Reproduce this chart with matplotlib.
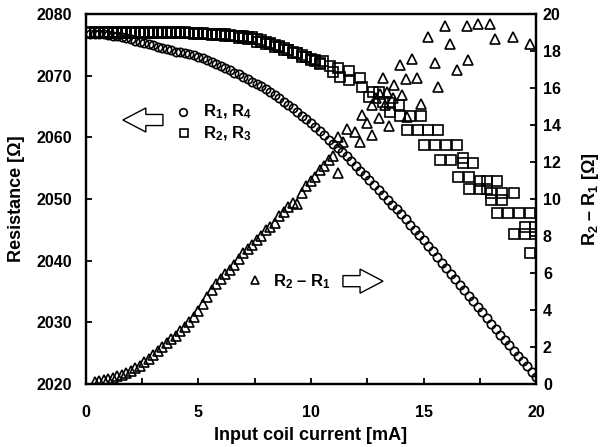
import numpy as np
import matplotlib
matplotlib.use("Agg")
import matplotlib.pyplot as plt
from matplotlib.patches import FancyArrow

plt.rcParams['font.family'] = ['Liberation Sans', 'DejaVu Sans']
plt.rcParams['font.weight'] = 'bold'
plt.rcParams['mathtext.fontset'] = 'custom'
plt.rcParams['mathtext.rm'] = 'Liberation Sans:bold'
plt.rcParams['mathtext.bf'] = 'Liberation Sans:bold'

# current grid, 0.2 mA steps
current = np.round(np.arange(1, 101) * 0.2, 1)

# R1, R4 (circles), one value per current step
r1 = [2076.8, 2076.8, 2076.8, 2076.7, 2076.6, 2076.5, 2076.4, 2076.3, 2076.1, 2075.9,
      2075.7, 2075.5, 2075.3, 2075.1, 2074.9, 2074.7, 2074.5, 2074.3, 2074.1, 2073.9,
      2073.8, 2073.6, 2073.5, 2073.3, 2073.1, 2072.8, 2072.5, 2072.2, 2071.9, 2071.6,
      2071.2, 2070.9, 2070.5, 2070.2, 2069.8, 2069.4, 2069.0, 2068.7, 2068.3, 2067.9,
      2067.4, 2066.9, 2066.4, 2065.8, 2065.3, 2064.7, 2064.1, 2063.5, 2062.9, 2062.3,
      2061.6, 2061.0, 2060.3, 2059.6, 2059.0, 2058.3, 2057.6, 2056.9, 2056.1, 2055.4,
      2054.6, 2053.9, 2053.1, 2052.3, 2051.5, 2050.7, 2049.9, 2049.1, 2048.3, 2047.5,
      2046.7, 2045.8, 2045.0, 2044.1, 2043.3, 2042.4, 2041.5, 2040.6, 2039.7, 2038.8,
      2037.9, 2037.0, 2036.1, 2035.2, 2034.3, 2033.4, 2032.5, 2031.6, 2030.7, 2029.8,
      2028.9, 2028.0, 2027.2, 2026.3, 2025.4, 2024.6, 2023.7, 2022.9, 2022.0, 2021.2]

# R2, R3 (squares), 0.2 .. 10.4 mA
r2_low = [2077.0, 2077.0, 2077.0, 2077.0, 2077.0, 2077.0, 2077.0, 2077.0, 2077.0, 2077.0,
          2077.0, 2077.0, 2077.0, 2077.0, 2077.0, 2077.0, 2077.0, 2077.0, 2077.0, 2077.0,
          2077.0, 2077.0, 2076.9, 2076.9, 2076.9, 2076.9, 2076.8, 2076.8,
          2076.8, 2076.7, 2076.7, 2076.6, 2076.5, 2076.5, 2076.4, 2076.3, 2076.2, 2076.0,
          2075.8, 2075.5, 2075.3, 2075.0, 2074.8, 2074.5, 2074.2, 2073.9, 2073.6, 2073.3,
          2073.0, 2072.7, 2072.4, 2072.1]
r3_low = [2076.9, 2076.9, 2076.9, 2076.9, 2076.9, 2076.9, 2076.9, 2076.9, 2076.9, 2076.9,
          2076.9, 2076.9, 2076.9, 2076.9, 2076.9, 2076.9, 2076.9, 2076.9, 2076.9, 2076.9,
          2076.9, 2076.9, 2076.9, 2076.8, 2076.8, 2076.8, 2076.8, 2076.6,
          2076.6, 2076.6, 2076.4, 2076.4, 2076.4, 2076.1, 2076.1, 2075.9, 2075.9, 2075.5,
          2075.5, 2075.1, 2075.1, 2074.6, 2074.6, 2074.1, 2074.1, 2073.6, 2073.6, 2073.1,
          2073.1, 2072.6, 2072.6, 2071.9]

# R2, R3 scattered part (above ~10.5 mA)
sq_x = [10.55, 10.84, 11.0, 11.2, 11.3, 11.7, 11.7, 12.2, 12.25, 12.6, 12.77, 13.0,
        13.2, 13.5, 13.5, 13.9, 13.96, 14.4, 14.9, 14.25, 14.77, 15.2, 15.66,
        15.0, 15.5, 16.0, 16.5, 15.73, 16.22, 16.74, 16.74, 17.2, 16.52, 17.0,
        17.5, 17.8, 18.25, 17.0, 17.5, 17.8, 18.0, 18.5, 19.0, 18.0, 18.5,
        18.25, 18.77, 19.26, 19.73, 19.5, 19.96, 19.0, 19.5, 19.96, 19.73]
sq_r = [2072.3, 2071.5, 2070.6, 2071.2, 2069.8, 2070.7, 2069.3, 2069.6, 2068.2, 2066.6, 2067.4, 2067.4,
        2065.8, 2064.1, 2065.5, 2065.2, 2063.4, 2063.4, 2063.4, 2061.2, 2061.2, 2061.2, 2061.2,
        2058.8, 2058.8, 2058.7, 2058.7, 2056.3, 2056.3, 2056.6, 2055.8, 2055.8, 2053.6, 2053.6,
        2052.9, 2052.9, 2052.9, 2051.7, 2051.7, 2051.7, 2050.9, 2050.9, 2050.9, 2049.9, 2049.9,
        2047.8, 2047.8, 2047.8, 2047.8, 2045.5, 2045.5, 2044.3, 2044.3, 2044.3, 2041.2]

# R2 - R1 (triangles), 0.4 .. 11.0 mA
dr_low = [0.10, 0.15, 0.20, 0.28, 0.35, 0.42, 0.50, 0.60, 0.72, 0.85,
          1.00, 1.18, 1.35, 1.55, 1.78, 2.00, 2.20, 2.42, 2.62, 2.85,
          3.10, 3.35, 3.62, 3.92, 4.30, 4.70, 5.08, 5.40, 5.68, 5.92,
          6.18, 6.42, 6.78, 7.08, 7.30, 7.52, 7.80, 8.02, 8.30, 8.50,
          8.72, 9.10, 9.30, 9.58, 9.80, 9.75, 10.35, 10.70, 10.95, 11.20,
          11.55, 11.80, 12.10, 12.30]

# R2 - R1 scattered part
dr_x = [11.2, 11.2, 11.44, 11.6, 11.96, 12.18, 12.25, 12.47, 12.7, 12.7, 12.9, 13.0,
        13.07, 13.2, 13.3, 13.36, 13.48, 13.66, 13.7, 13.96, 14.03, 14.2, 14.25, 14.47,
        14.7, 14.9, 15.2, 15.51, 15.66, 15.96, 16.18, 16.47, 16.95, 16.99, 17.44, 17.96,
        18.18, 18.99, 19.73]
dr_v = [11.4, 13.37, 13.06, 13.8, 13.6, 13.1, 14.54, 14.1, 13.46, 15.08, 15.44, 14.4,
        15.7, 16.52, 15.08, 15.8, 13.96, 15.44, 16.16, 17.24, 15.62, 16.5, 14.45, 17.55,
        16.56, 15.12, 18.77, 17.33, 16.07, 19.35, 18.4, 16.97, 19.35, 17.5, 19.46, 19.46,
        18.63, 18.77, 18.4]

fig = plt.figure(figsize=(6.03, 4.47), dpi=100)
ax = fig.add_axes([0.1426, 0.1409, 0.7463, 0.8278])
ax2 = ax.twinx()

mk = dict(linestyle='none', mfc='none', mec='black', mew=1.2)
ax.plot(current, r1, marker='o', ms=6, **mk)
ax.plot(current[:len(r2_low)], r2_low, marker='s', ms=6.5, **mk)
ax.plot(current[:len(r3_low)], r3_low, marker='s', ms=6.5, **mk)
ax.plot(sq_x, sq_r, marker='s', ms=6.5, **mk)
ax2.plot(current[1:1 + len(dr_low)], dr_low, marker='^', ms=7, **mk)
ax2.plot(dr_x, dr_v, marker='^', ms=7, **mk)

ax.set_xlim(0, 20)
ax.set_ylim(2020, 2080)
ax2.set_ylim(0, 20)
ax.set_xticks(np.arange(0, 21, 5))
ax.set_xticks(np.arange(0, 20.1, 2.5), minor=True)
ax.set_yticks(np.arange(2020, 2081, 10))
ax2.set_yticks(np.arange(0, 21, 2))

for a in (ax, ax2):
    for s in a.spines.values():
        s.set_linewidth(1.6)
ax.tick_params(axis='both', which='both', direction='in', width=1.3, length=4,
               labelsize=11.5)
ax.tick_params(axis='x', pad=15)
ax.tick_params(axis='y', pad=10)
ax2.tick_params(axis='y', direction='in', width=1.3, length=4, labelsize=11.5, pad=5)
for lab in ax.get_xticklabels() + ax.get_yticklabels() + ax2.get_yticklabels():
    lab.set_fontweight('bold')

ax.set_xlabel('Input coil current [mA]', fontsize=13, fontweight='bold', labelpad=5)
ax.set_ylabel('Resistance [Ω]', fontsize=13, fontweight='bold', labelpad=8)
ax2.set_ylabel(r'$\mathbf{R_2}$ – $\mathbf{R_1}$ [Ω]', fontsize=13, fontweight='bold', labelpad=14)

# legend-like labels
t = ax.transAxes
ax.plot([0.216], [0.735], marker='o', ms=5.5, transform=t, clip_on=False, **mk)
ax.plot([0.218], [0.678], marker='s', ms=6, transform=t, clip_on=False, **mk)
ax.text(0.26, 0.735, r'$\mathbf{R_1}$, $\mathbf{R_4}$', transform=t, fontsize=12,
        fontweight='bold', va='center')
ax.text(0.26, 0.675, r'$\mathbf{R_2}$, $\mathbf{R_3}$', transform=t, fontsize=12,
        fontweight='bold', va='center')
ax.plot([0.376], [0.282], marker='^', ms=6, transform=t, clip_on=False, **mk)
ax.text(0.415, 0.278, r'$\mathbf{R_2}$ – $\mathbf{R_1}$', transform=t, fontsize=12,
        fontweight='bold', va='center')

ax.add_patch(FancyArrow(0.171, 0.7135, -0.089, 0, width=0.03, head_width=0.065,
                        head_length=0.051, length_includes_head=True, transform=t,
                        fc='white', ec='black', lw=1.0, zorder=5))
ax.add_patch(FancyArrow(0.571, 0.278, 0.089, 0, width=0.03, head_width=0.065,
                        head_length=0.051, length_includes_head=True, transform=t,
                        fc='white', ec='black', lw=1.0, zorder=5))

fig.savefig('out.png', dpi=100)
